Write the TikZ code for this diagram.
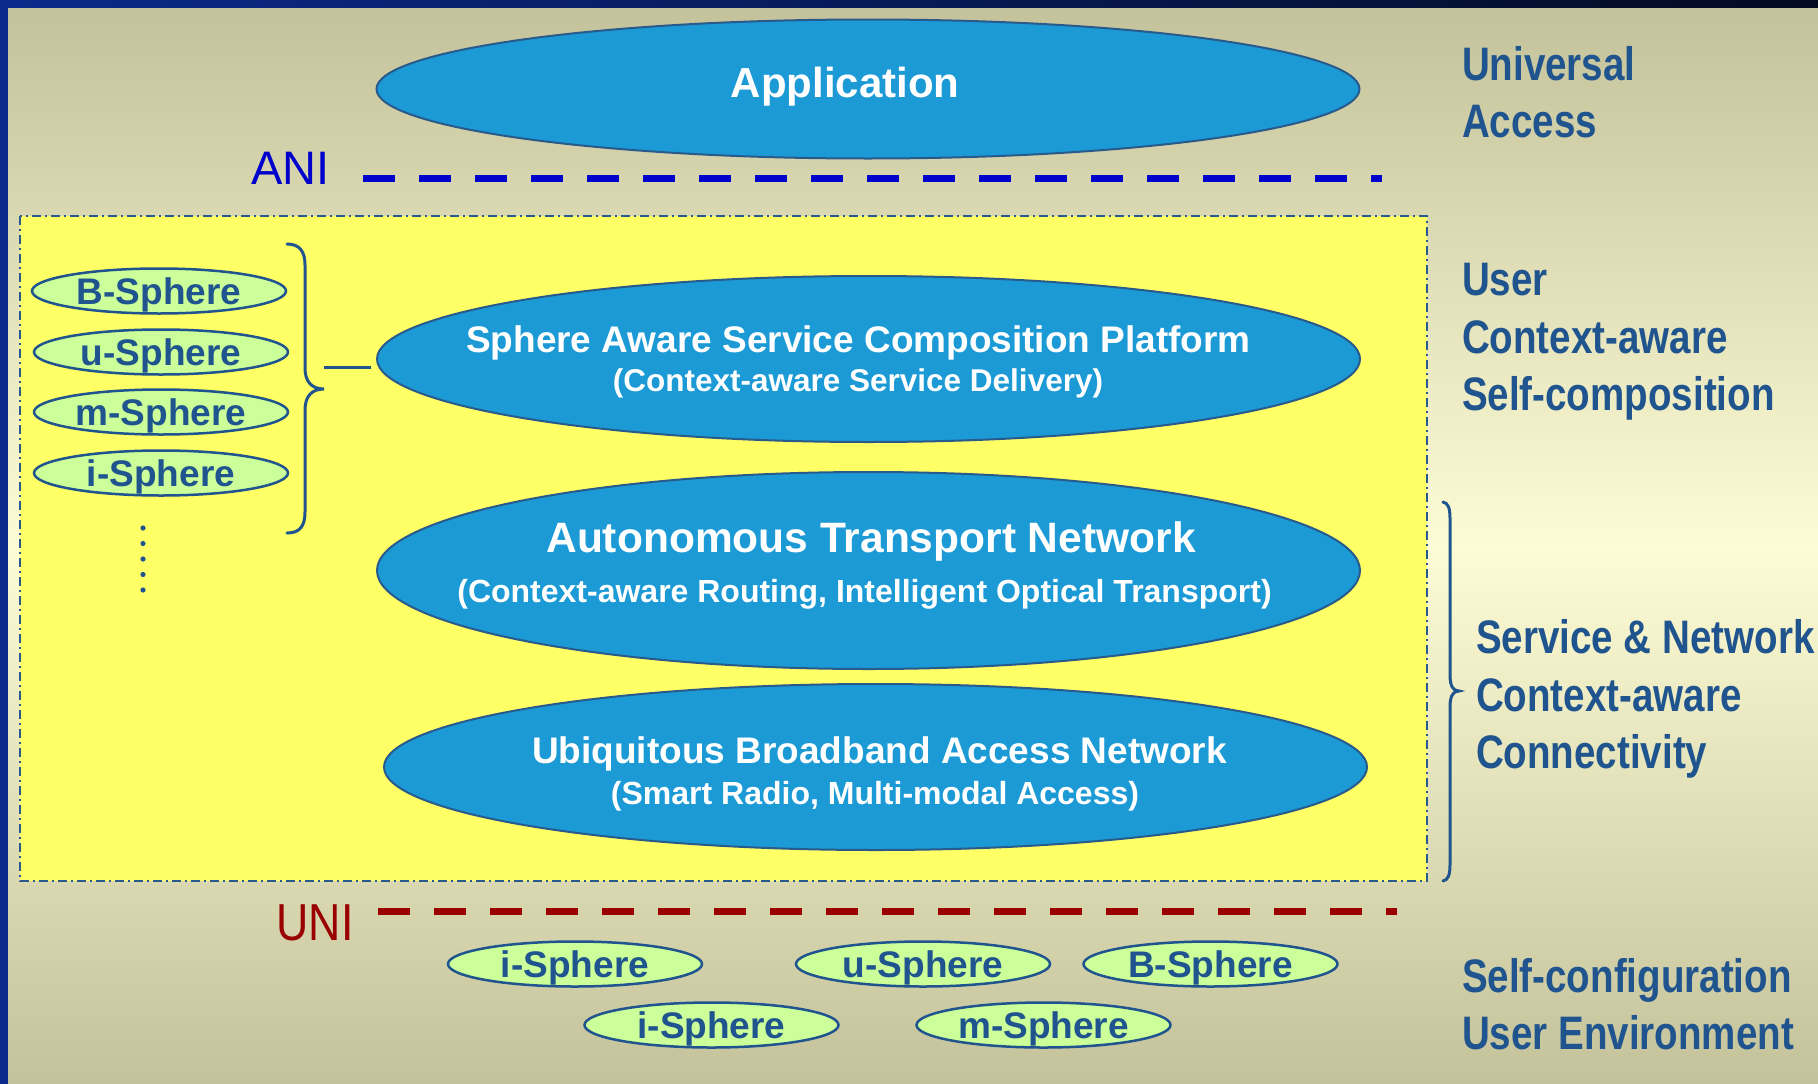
\documentclass[tikz,border=0pt]{standalone}
\usepackage{fontspec}
\setmainfont{Liberation Sans}
\newfontfamily\condbold{Liberation Sans Bold}[FakeStretch=0.82]
\newfontfamily\condreg{Liberation Sans}[FakeStretch=0.86]
\usetikzlibrary{shapes.geometric}

\definecolor{bgtan}{RGB}{195,194,155}
\definecolor{bglight}{RGB}{253,252,212}
\definecolor{navy}{RGB}{11,42,138}
\definecolor{navydark}{RGB}{3,10,32}
\definecolor{skyfill}{RGB}{27,154,214}
\definecolor{edgeblue}{RGB}{40,90,140}
\definecolor{textblue}{RGB}{31,84,142}
\definecolor{leaf}{RGB}{204,255,153}
\definecolor{boxyellow}{RGB}{255,255,102}
\definecolor{aniblue}{RGB}{0,0,204}
\definecolor{unired}{RGB}{153,0,0}

\tikzset{
  layer/.style={ellipse, draw=edgeblue, line width=2pt, fill=skyfill,
    inner sep=0pt, outer sep=0pt, minimum width=983pt},
  layertitle/.style={anchor=base, text=white, font=\bfseries},
  sphere/.style={ellipse, draw=textblue, line width=2.5pt, fill=leaf,
    inner sep=0pt, outer sep=0pt, minimum width=254pt, minimum height=45pt,
    text depth=0pt, text=textblue, font=\fontsize{37}{42}\selectfont\bfseries},
  sidetext/.style={anchor=base west, text=textblue,
    font=\fontsize{47}{57}\selectfont\condbold},
  interface/.style={line width=7pt, dash pattern=on 32pt off 24pt},
  bracket/.style={draw=textblue, line width=3pt, line cap=round},
}

\begin{document}
\begin{tikzpicture}[x=1pt, y=-1pt]
\useasboundingbox (0,0) rectangle (1818,1084);

% frame and background
\fill[navy] (0,0) rectangle (8,1084);
\shade[left color=navy, right color=navydark] (0,0) rectangle (1818,8);
\shade[top color=bgtan, bottom color=bgtan, middle color=bglight] (8,8) rectangle (1818,1084);

% top layer
\node[layer, minimum height=139pt] (app) at (868,89) {};
\node[layertitle, font=\fontsize{42}{48}\selectfont\bfseries] (apptext) at (845,97) {Application};

% ANI boundary
\node[anchor=base west, text=aniblue, font=\fontsize{47}{54}\selectfont] (ani) at (248,184) {ANI};
\coordinate (aniL) at (363,178.5);
\coordinate (aniR) at (1382,178.5);
\draw[interface, aniblue] (aniL) -- (aniR);

% user context area
\draw[draw=edgeblue, line width=1.5pt, fill=boxyellow,
      dash pattern=on 9pt off 4pt on 2pt off 4pt] (20,216) rectangle (1427,881);

% sphere list on the left
\node[sphere] (lb) at (159,291) {B-Sphere};
\node[sphere] (lu) at (161,352) {u-Sphere};
\node[sphere] (lm) at (161,412) {m-Sphere};
\node[sphere] (li) at (161,473) {i-Sphere};
\foreach \yy in {528,543.5,559,574.5,590} \fill[textblue] (143,\yy) circle (2.6pt);

% brace grouping the spheres
\draw[bracket] (287,244) .. controls (300,244) and (305,252) .. (305,265)
  -- (305,368) .. controls (305,382) and (312,389) .. (324,389)
  .. controls (312,389) and (305,396) .. (305,410)
  -- (305,512) .. controls (305,526) and (300,533) .. (287,533);
\coordinate (bracetip) at (324,367);
\coordinate (linkend) at (371,367);
\draw[textblue, line width=3pt] (bracetip) -- (linkend);

% service and network layers
\node[layer, minimum height=166pt] (sascp) at (868.5,359) {};
\node[layertitle, font=\fontsize{37}{44}\selectfont\bfseries] (sascpt) at (858.5,352) {Sphere Aware Service Composition Platform};
\node[layertitle, font=\fontsize{31.5}{38}\selectfont\bfseries] (sascps) at (858,391) {(Context-aware Service Delivery)};

\node[layer, minimum height=197pt] (atn) at (868.5,570.5) {};
\node[layertitle, font=\fontsize{42.5}{50}\selectfont\bfseries] (atnt) at (871,552) {Autonomous Transport Network};
\node[layertitle, font=\fontsize{32}{38}\selectfont\bfseries] (atns) at (864.5,602) {(Context-aware Routing, Intelligent Optical Transport)};

\node[layer, minimum height=166pt] (uban) at (875.5,767) {};
\node[layertitle, font=\fontsize{37}{44}\selectfont\bfseries] (ubant) at (879.5,763) {Ubiquitous Broadband Access Network};
\node[layertitle, font=\fontsize{32}{38}\selectfont\bfseries] (ubans) at (875,804) {(Smart Radio, Multi-modal Access)};

% UNI boundary
\node[anchor=base west, text=unired, font=\fontsize{52}{58}\selectfont\condreg] (uni) at (273,940) {UNI};
\coordinate (uniL) at (378,911);
\coordinate (uniR) at (1397,911);
\draw[interface, unired] (uniL) -- (uniR);

% user environment spheres
\node[sphere] (bi1) at (575,964) {i-Sphere};
\node[sphere] (bu) at (923,964) {u-Sphere};
\node[sphere] (bb) at (1210.5,964) {B-Sphere};
\node[sphere] (bi2) at (711.5,1025) {i-Sphere};
\node[sphere] (bm) at (1043.5,1025) {m-Sphere};

% brace on the right
\draw[bracket] (1443,502) .. controls (1448,503) and (1450,508) .. (1450,518)
  -- (1450,675) .. controls (1450,686) and (1453,691) .. (1459,691)
  .. controls (1453,691) and (1450,696) .. (1450,707)
  -- (1450,865) .. controls (1450,875) and (1448,880) .. (1443,881);

% right-hand captions
\node[sidetext] (ua1) at (1458.5,80) {Universal};
\node[sidetext] (ua2) at (1458.5,137) {Access};
\node[sidetext] (uc1) at (1458.5,295) {User};
\node[sidetext] (uc2) at (1458.5,353) {Context-aware};
\node[sidetext] (uc3) at (1458.5,410) {Self-composition};
\node[sidetext] (sn1) at (1472.5,653) {Service \& Network};
\node[sidetext] (sn2) at (1472.5,711) {Context-aware};
\node[sidetext] (sn3) at (1472.5,768) {Connectivity};
\node[sidetext] (ue1) at (1458.5,992) {Self-configuration};
\node[sidetext] (ue2) at (1458.5,1049) {User Environment};
\end{tikzpicture}
\end{document}
